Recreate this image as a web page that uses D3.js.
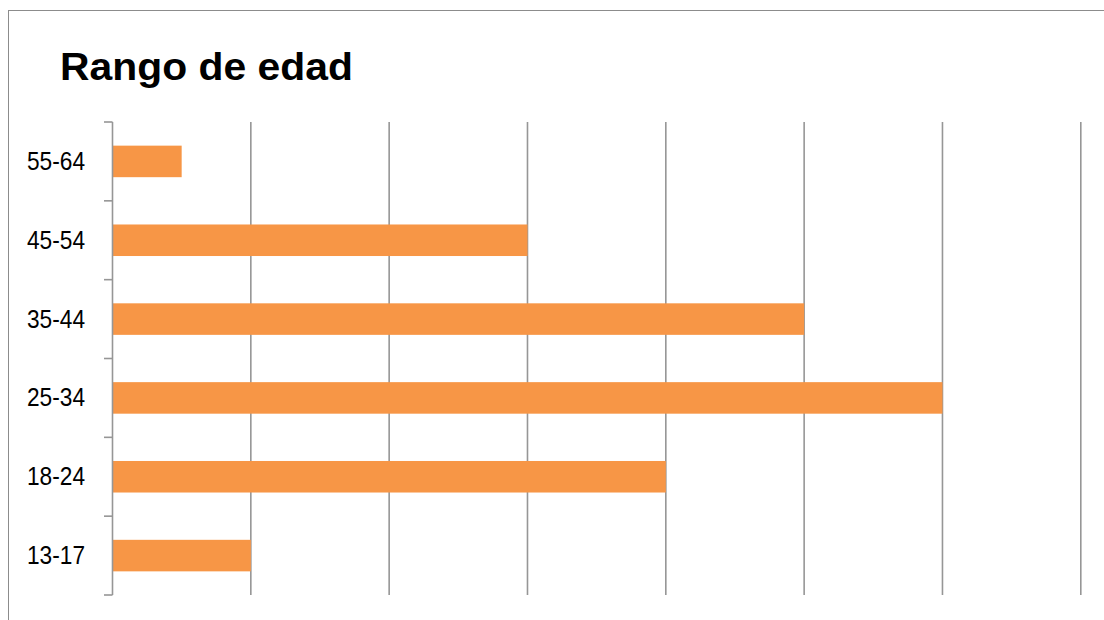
<!DOCTYPE html>
<html>
<head>
<meta charset="utf-8">
<script src="https://cdn.jsdelivr.net/npm/d3@7"></script>
<style>
  html, body { margin: 0; padding: 0; background: #fff; }
  svg { display: block; }
</style>
</head>
<body>
<svg id="chart" width="1104" height="620"></svg>
<script>
// Age ranges, bottom to top as listed on the axis
const categories = ["13-17", "18-24", "25-34", "35-44", "45-54", "55-64"];
const values = [1, 4, 6, 5, 3, 0.5];
const xTicks = [0, 1, 2, 3, 4, 5, 6, 7];
const title = "Rango de edad";

const svg = d3.select("#chart");
const font = "'Liberation Sans', Arial, sans-serif";

// outer frame
svg.append("rect")
  .attr("x", 8.5).attr("y", 10.5)
  .attr("width", 1200).attr("height", 700)
  .attr("fill", "none").attr("stroke", "#8c8c8c").attr("stroke-width", 1);

const plotLeft = 112.5, plotRight = 1080.8, plotTop = 122, plotBottom = 595;

const x = d3.scaleLinear().domain([0, 7]).range([plotLeft, plotRight]);
const y = d3.scaleBand()
  .domain(categories.slice().reverse())
  .range([plotTop, plotBottom])
  .paddingInner(0.6).paddingOuter(0.3);

// vertical gridlines
svg.append("g")
  .selectAll("line")
  .data(xTicks.slice(1))
  .join("line")
  .attr("x1", d => x(d)).attr("x2", d => x(d))
  .attr("y1", plotTop).attr("y2", plotBottom)
  .attr("stroke", "#969696").attr("stroke-width", 1.6);

// bars
svg.append("g")
  .selectAll("rect")
  .data(categories)
  .join("rect")
  .attr("x", x(0))
  .attr("y", d => y(d))
  .attr("width", (d, i) => x(values[i]) - x(0))
  .attr("height", y.bandwidth())
  .attr("fill", "#F79646");

// category axis: ticks at band boundaries
const step = (plotBottom - plotTop) / categories.length;
const axis = svg.append("g");
axis.append("line")
  .attr("x1", plotLeft).attr("x2", plotLeft)
  .attr("y1", plotTop).attr("y2", plotBottom)
  .attr("stroke", "#969696").attr("stroke-width", 1.6);
axis.selectAll("line.tick")
  .data(d3.range(categories.length + 1))
  .join("line")
  .attr("class", "tick")
  .attr("x1", 104).attr("x2", plotLeft)
  .attr("y1", i => plotTop + i * step).attr("y2", i => plotTop + i * step)
  .attr("stroke", "#969696").attr("stroke-width", 1.6);

// condensed category labels
axis.selectAll("text")
  .data(categories)
  .join("text")
  .attr("x", 27)
  .attr("y", d => y(d) + y.bandwidth() / 2 + 8.5)
  .attr("textLength", 58)
  .attr("lengthAdjust", "spacingAndGlyphs")
  .attr("font-family", font)
  .attr("font-size", 26)
  .attr("fill", "#000")
  .text(d => d);

// title
svg.append("text")
  .attr("x", 60).attr("y", 80)
  .attr("textLength", 293)
  .attr("lengthAdjust", "spacingAndGlyphs")
  .attr("font-family", font)
  .attr("font-weight", "bold")
  .attr("font-size", 39)
  .attr("fill", "#000")
  .text(title);
</script>
</body>
</html>
